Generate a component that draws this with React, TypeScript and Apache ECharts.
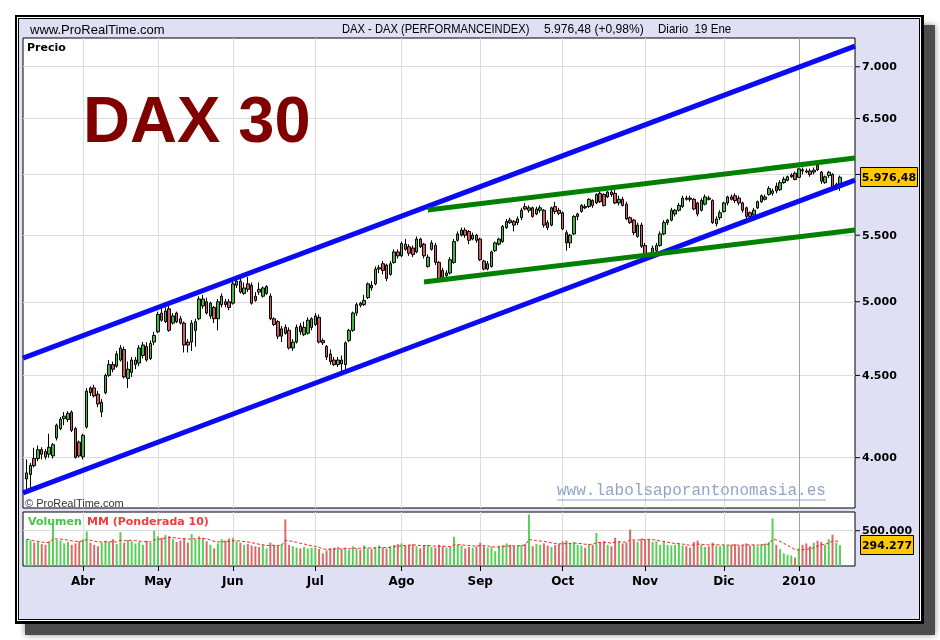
import React, { useEffect, useRef } from "react";
import * as echarts from "echarts";

// ---------- categories (trading days) ----------
const MONTH_NAMES = ["Ene", "Feb", "Mar", "Abr", "May", "Jun", "Jul", "Ago", "Sep", "Oct", "Nov", "Dic"];
const HOLIDAYS = ["2009-04-10", "2009-04-13", "2009-05-01", "2009-12-24", "2009-12-25", "2009-12-31", "2010-01-01"];
const FIRST_DAY = [2009, 2, 11];
const LAST_DAY = [2010, 0, 19];
const PAD_BEFORE = ["2009-03-10"];
const PAD_AFTER = ["2010-01-20", "2010-01-21", "2010-01-22", "2010-01-25"];

// ---------- OHLC [open, high, low, close] ----------
const ohlcMar09 = [
  [3880, 3990, 3820, 3914], [3905, 3970, 3830, 3956], [3995, 4057, 3945, 3954], [3995, 4070, 3980, 4046],
  [4046, 4060, 3990, 4020], [4035, 4050, 3990, 4005], [4020, 4140, 4000, 4060], [4010, 4085, 3995, 4075],
  [4115, 4200, 4100, 4190], [4170, 4240, 4160, 4226], [4230, 4270, 4190, 4245], [4225, 4275, 4210, 4262],
  [4270, 4280, 4150, 4160], [4170, 4180, 3995, 4002], [4090, 4100, 4000, 4010],
];
const ohlcApr09 = [
  [4005, 4140, 3990, 4130], [4180, 4420, 4170, 4400], [4420, 4430, 4370, 4390], [4420, 4440, 4360, 4370],
  [4380, 4400, 4300, 4320], [4270, 4350, 4240, 4330], [4390, 4510, 4380, 4500], [4500, 4600, 4490, 4570],
  [4570, 4590, 4520, 4540], [4560, 4660, 4550, 4640], [4600, 4700, 4590, 4680], [4670, 4690, 4480, 4490],
  [4480, 4590, 4420, 4540], [4520, 4620, 4490, 4600], [4570, 4620, 4540, 4600], [4580, 4700, 4560, 4680],
  [4630, 4720, 4610, 4700], [4690, 4720, 4590, 4600], [4610, 4730, 4600, 4710], [4720, 4790, 4700, 4765],
];
const ohlcMay09 = [
  [4790, 4930, 4780, 4910], [4920, 4960, 4860, 4870], [4860, 4960, 4850, 4935], [4950, 4980, 4790, 4800],
  [4850, 4920, 4840, 4900], [4920, 4930, 4850, 4860], [4880, 4900, 4840, 4850], [4850, 4860, 4650, 4700],
  [4720, 4740, 4650, 4700], [4720, 4870, 4660, 4850], [4800, 4880, 4690, 4860], [4880, 5040, 4870, 5020],
  [4970, 5050, 4950, 5020], [5000, 5030, 4910, 4920], [4900, 5000, 4880, 4990], [4960, 4970, 4850, 4880],
  [4880, 5020, 4800, 5000], [4980, 5060, 4960, 5040], [5000, 5020, 4960, 4980], [5000, 5020, 4940, 4960],
];
const ohlcJun09 = [
  [4990, 5145, 4980, 5130], [5120, 5170, 5100, 5150], [5150, 5180, 5060, 5070], [5060, 5140, 5050, 5100],
  [5130, 5180, 5070, 5090], [5120, 5140, 4980, 4990], [5040, 5070, 5000, 5010], [5090, 5140, 5050, 5070],
  [5040, 5110, 5030, 5100], [5060, 5120, 5050, 5110], [5040, 5060, 4870, 4880], [4880, 4890, 4830, 4840],
  [4860, 4870, 4740, 4760], [4760, 4830, 4720, 4810], [4820, 4840, 4770, 4780], [4800, 4820, 4670, 4680],
  [4680, 4740, 4660, 4720], [4720, 4840, 4710, 4820], [4830, 4850, 4770, 4790], [4770, 4860, 4760, 4820],
  [4780, 4890, 4770, 4870], [4820, 4890, 4800, 4880],
];
const ohlcJul09 = [
  [4840, 4920, 4830, 4900], [4890, 4910, 4710, 4720], [4730, 4745, 4700, 4715], [4690, 4700, 4600, 4620],
  [4640, 4670, 4570, 4590], [4600, 4620, 4560, 4570], [4570, 4620, 4555, 4600], [4600, 4630, 4525, 4575],
  [4570, 4725, 4540, 4715], [4730, 4810, 4720, 4800], [4800, 4930, 4790, 4920], [4920, 4995, 4900, 4980],
  [4990, 5000, 4960, 4975], [4980, 5050, 4970, 5010], [5030, 5140, 5020, 5130], [5120, 5150, 5080, 5100],
  [5130, 5260, 5120, 5240], [5240, 5270, 5210, 5250], [5280, 5300, 5200, 5230], [5270, 5280, 5150, 5170],
  [5200, 5300, 5190, 5280], [5290, 5390, 5280, 5370], [5370, 5390, 5320, 5340],
];
const ohlcAug09 = [
  [5340, 5450, 5330, 5435], [5430, 5470, 5380, 5390], [5410, 5430, 5340, 5360], [5400, 5420, 5330, 5350],
  [5370, 5490, 5360, 5470], [5470, 5480, 5400, 5410], [5430, 5440, 5320, 5340], [5260, 5350, 5250, 5330],
  [5390, 5460, 5380, 5440], [5420, 5440, 5270, 5290], [5290, 5300, 5155, 5170], [5230, 5250, 5160, 5180],
  [5190, 5230, 5160, 5210], [5210, 5330, 5200, 5310], [5290, 5470, 5280, 5450], [5460, 5530, 5450, 5510],
  [5500, 5560, 5490, 5540], [5540, 5560, 5480, 5500], [5530, 5540, 5430, 5460], [5470, 5520, 5460, 5500],
  [5500, 5510, 5440, 5460],
];
const ohlcSep09 = [
  [5470, 5480, 5300, 5310], [5300, 5310, 5230, 5240], [5240, 5300, 5230, 5280], [5260, 5380, 5250, 5370],
  [5380, 5450, 5370, 5440], [5430, 5480, 5420, 5470], [5450, 5580, 5440, 5570], [5560, 5630, 5550, 5610],
  [5620, 5640, 5590, 5600], [5610, 5620, 5530, 5580], [5600, 5650, 5580, 5630], [5640, 5720, 5620, 5700],
  [5730, 5760, 5700, 5710], [5700, 5740, 5680, 5720], [5720, 5730, 5640, 5650], [5670, 5730, 5660, 5710],
  [5700, 5740, 5680, 5720], [5700, 5710, 5560, 5580], [5600, 5620, 5540, 5560], [5580, 5730, 5570, 5720],
  [5730, 5770, 5670, 5690], [5700, 5720, 5660, 5675],
];
const ohlcOct09 = [
  [5680, 5690, 5540, 5550], [5520, 5540, 5380, 5440], [5440, 5510, 5400, 5500], [5510, 5660, 5500, 5650],
  [5650, 5680, 5620, 5670], [5690, 5750, 5680, 5740], [5730, 5750, 5710, 5720], [5730, 5800, 5720, 5790],
  [5780, 5790, 5720, 5740], [5760, 5840, 5750, 5830], [5840, 5860, 5760, 5770], [5830, 5840, 5730, 5740],
  [5810, 5860, 5800, 5850], [5850, 5870, 5810, 5830], [5840, 5870, 5750, 5760], [5760, 5820, 5740, 5790],
  [5790, 5810, 5730, 5740], [5750, 5770, 5620, 5630], [5640, 5650, 5590, 5600], [5620, 5630, 5500, 5520],
  [5490, 5600, 5480, 5580], [5580, 5600, 5400, 5414],
];
const ohlcNov09 = [
  [5420, 5440, 5330, 5350], [5330, 5360, 5315, 5320], [5340, 5420, 5330, 5400], [5380, 5440, 5360, 5420],
  [5420, 5530, 5410, 5510], [5510, 5620, 5500, 5600], [5600, 5630, 5580, 5620], [5620, 5720, 5610, 5700],
  [5670, 5710, 5650, 5700], [5700, 5760, 5690, 5740], [5730, 5820, 5720, 5800], [5800, 5820, 5780, 5790],
  [5800, 5820, 5770, 5790], [5790, 5800, 5700, 5710], [5760, 5770, 5650, 5670], [5700, 5800, 5690, 5780],
  [5750, 5830, 5740, 5810], [5800, 5820, 5780, 5790], [5780, 5790, 5590, 5600], [5590, 5650, 5570, 5630],
  [5640, 5700, 5620, 5680],
];
const ohlcDec09 = [
  [5690, 5770, 5680, 5760], [5760, 5820, 5740, 5810], [5810, 5830, 5780, 5790], [5820, 5840, 5760, 5780],
  [5800, 5820, 5740, 5760], [5760, 5770, 5680, 5700], [5720, 5730, 5625, 5650], [5680, 5690, 5630, 5650],
  [5660, 5720, 5640, 5700], [5720, 5780, 5710, 5770], [5770, 5830, 5760, 5820], [5790, 5830, 5780, 5810],
  [5830, 5900, 5820, 5880], [5840, 5880, 5820, 5860], [5900, 5930, 5840, 5860], [5870, 5950, 5860, 5930],
  [5930, 5980, 5920, 5960], [5950, 5990, 5940, 5980], [5980, 6010, 5970, 5995], [6010, 6025, 5950, 5957],
];
const ohlcJan10 = [
  [5975, 6050, 5970, 6048], [6040, 6060, 6000, 6030], [6030, 6050, 6010, 6020], [6030, 6050, 5980, 6000],
  [6020, 6060, 6000, 6037], [6080, 6095, 6030, 6040], [6020, 6030, 5920, 5943], [5930, 5990, 5920, 5980],
  [5990, 6030, 5970, 6019], [6000, 6010, 5860, 5875], [5880, 5930, 5870, 5918], [5890, 5990, 5860, 5976],
];

// ---------- volume (thousands) ----------
const volMar09 = [380, 360, 330, 340, 310, 300, 350, 600, 370, 360, 320, 340, 300, 320, 350];
const volApr09 = [380, 490, 330, 300, 280, 330, 360, 340, 380, 310, 480, 330, 370, 350, 320, 340, 300, 360, 330, 500];
const volMay09 = [420, 400, 440, 420, 380, 340, 360, 390, 330, 450, 380, 420, 400, 350, 300, 250, 320, 380, 360, 390];
const volJun09 = [400, 350, 330, 300, 310, 290, 280, 270, 300, 250, 330, 300, 290, 310, 660, 300, 280, 260, 250, 270, 250, 260];
const volJul09 = [260, 240, 180, 220, 250, 260, 270, 240, 260, 230, 280, 250, 230, 290, 250, 240, 270, 290, 260, 250, 280, 300, 310];
const volAug09 = [320, 290, 300, 310, 280, 250, 290, 300, 270, 260, 300, 280, 260, 270, 414, 300, 290, 250, 270, 260, 280];
const volSep09 = [330, 280, 260, 270, 210, 290, 300, 320, 300, 280, 290, 300, 310, 731, 280, 310, 300, 320, 290, 270, 300, 310];
const volOct09 = [350, 360, 320, 340, 300, 290, 260, 310, 300, 467, 330, 350, 300, 280, 400, 350, 320, 330, 517, 360, 340, 390];
const volNov09 = [370, 380, 340, 350, 300, 340, 300, 290, 300, 320, 290, 280, 260, 340, 360, 300, 270, 280, 330, 290, 280];
const volDec09 = [300, 290, 300, 310, 280, 300, 320, 290, 300, 280, 310, 320, 340, 674, 300, 240, 180, 160, 150, 120];
const volJan10 = [250, 300, 320, 280, 330, 360, 340, 300, 380, 445, 330, 294];

// ---------- trend lines [category index, price] ----------
const channelUpper = [[0, 4613], [222, 7210]];
const channelLower = [[0, 3803], [222, 5952]];
const wedgeUpper = [[108, 5702], [222, 6142]];
const wedgeLower = [[107, 5144], [222, 5541]];

// ---------- axis ticks ----------
const PRICE_MIN = 3722;
const PRICE_MAX = 7294;
const PRICE_TICKS = [4000, 4500, 5000, 5500, 6000, 6500, 7000];
// the 6.000 label sits under the last-price box in the reference, so it is left empty
const PRICE_TICK_LABELS = ["4.000", "4.500", "5.000", "5.500", "", "6.500", "7.000"];
const VOL_MAX = 765000;
const VOL_TICKS = [500000];
const VOL_TICK_LABELS = ["500.000"];
const LAST_PRICE = 5976.48;
const LAST_PRICE_LABEL = "5.976,48";
const LAST_VOL = 294277;
const LAST_VOL_LABEL = "294.277";
const WMA_PERIOD = 10;

function buildDays(): string[] {
  const out: string[] = [];
  const d = new Date(Date.UTC(FIRST_DAY[0], FIRST_DAY[1], FIRST_DAY[2]));
  const end = Date.UTC(LAST_DAY[0], LAST_DAY[1], LAST_DAY[2]);
  while (d.getTime() <= end) {
    const wd = d.getUTCDay();
    const s = d.toISOString().slice(0, 10);
    if (wd !== 0 && wd !== 6 && HOLIDAYS.indexOf(s) < 0) out.push(s);
    d.setUTCDate(d.getUTCDate() + 1);
  }
  return out;
}

export default function App() {
  const ref = useRef<HTMLDivElement>(null);

  useEffect(() => {
    const days = buildDays();
    const cats = [...PAD_BEFORE, ...days, ...PAD_AFTER];
    const off = PAD_BEFORE.length;
    const ohlc = [
      ...ohlcMar09, ...ohlcApr09, ...ohlcMay09, ...ohlcJun09, ...ohlcJul09, ...ohlcAug09,
      ...ohlcSep09, ...ohlcOct09, ...ohlcNov09, ...ohlcDec09, ...ohlcJan10,
    ];
    const vols = [
      ...volMar09, ...volApr09, ...volMay09, ...volJun09, ...volJul09, ...volAug09,
      ...volSep09, ...volOct09, ...volNov09, ...volDec09, ...volJan10,
    ].map((v) => v * 1000);

    const monthLabel: Record<number, string> = {};
    for (let i = 1; i < days.length; i++) {
      const m0 = days[i - 1].slice(5, 7);
      const m1 = days[i].slice(5, 7);
      if (m0 !== m1) {
        const mi = parseInt(m1, 10) - 1;
        monthLabel[i + off] = mi === 0 ? days[i].slice(0, 4) : MONTH_NAMES[mi];
      }
    }
    const isMonth = (idx: number) => monthLabel[idx] !== undefined;
    const yearIdx = Object.keys(monthLabel).map(Number).find((k) => monthLabel[k] === "2010")!;

    const candleData: any[] = cats.map((_, i) => {
      const r = ohlc[i - off];
      return r ? [r[0], r[3], r[2], r[1]] : "-";
    });
    const volData: any[] = cats.map((_, i) => {
      const v = vols[i - off];
      const r = ohlc[i - off];
      if (v === undefined || !r) return "-";
      return { value: v, itemStyle: { color: r[3] >= r[0] ? "#5ACD5A" : "#D86A6A" } };
    });
    const wma: any[] = cats.map((_, i) => {
      const j = i - off;
      if (j < 0 || j >= vols.length) return "-";
      let s = 0, w = 0;
      for (let k = 0; k < WMA_PERIOD && j - k >= 0; k++) {
        const wt = WMA_PERIOD - k;
        s += vols[j - k] * wt;
        w += wt;
      }
      return Math.round(s / w);
    });

    const gridLine = { color: "#DCDCDC", width: 1, type: "solid" };
    const trend = (data: number[][], color: string) => ({
      type: "line",
      xAxisIndex: 0,
      yAxisIndex: 0,
      data,
      symbol: "none",
      silent: true,
      z: 4,
      lineStyle: { color, width: 5, cap: "butt" },
    });

    const option: any = {
      animation: false,
      textStyle: { fontFamily: "DejaVu Sans" },
      grid: [
        { left: 23, top: 38, width: 832, height: 470, show: true, backgroundColor: "#FFFFFF", borderColor: "#000", borderWidth: 1 },
        { left: 23, top: 512, width: 832, height: 54, show: true, backgroundColor: "#FFFFFF", borderColor: "#000", borderWidth: 1 },
      ],
      xAxis: [
        {
          type: "category", gridIndex: 0, data: cats, boundaryGap: false,
          axisLine: { show: false }, axisTick: { show: false }, axisLabel: { show: false },
          splitLine: { show: true, interval: (i: number) => isMonth(i), lineStyle: gridLine },
        },
        {
          type: "category", gridIndex: 1, data: cats, boundaryGap: false,
          axisLine: { show: false },
          axisTick: { show: true, interval: (i: number) => isMonth(i), length: 5, lineStyle: { color: "#000" } },
          axisLabel: {
            show: true, interval: (i: number) => isMonth(i),
            formatter: (_v: string, i: number) => monthLabel[i] || "",
            color: "#000", fontWeight: "bold", fontSize: 12, fontFamily: "DejaVu Sans", margin: 9,
          },
          splitLine: { show: true, interval: (i: number) => isMonth(i), lineStyle: gridLine },
        },
      ],
      yAxis: [
        {
          type: "log", gridIndex: 0, min: PRICE_MIN, max: PRICE_MAX, position: "right",
          axisLine: { show: false }, axisTick: { show: false }, axisLabel: { show: false }, splitLine: { show: false },
        },
        {
          type: "value", gridIndex: 1, min: 0, max: VOL_MAX, position: "right",
          axisLine: { show: false }, axisTick: { show: false }, axisLabel: { show: false }, splitLine: { show: false },
        },
      ],
      series: [
        {
          type: "candlestick", xAxisIndex: 0, yAxisIndex: 0, data: candleData, barWidth: 3, z: 2,
          itemStyle: { color: "#3FBA3F", color0: "#D65A5A", borderColor: "#000", borderColor0: "#000", borderWidth: 1 },
          markLine: {
            silent: true, symbol: ["none", "none"], z: 1, label: { show: false },
            lineStyle: gridLine,
            data: [
              ...PRICE_TICKS.map((v) => ({ yAxis: v })),
              { xAxis: cats[yearIdx], lineStyle: { color: "#A0A0A0", width: 1, type: "solid" } },
            ],
          },
        },
        trend(channelUpper, "#0A0AF5"),
        trend(channelLower, "#0A0AF5"),
        trend(wedgeUpper, "#008000"),
        trend(wedgeLower, "#008000"),
        {
          type: "bar", xAxisIndex: 1, yAxisIndex: 1, data: volData, barWidth: 2, z: 2,
          markLine: {
            silent: true, symbol: ["none", "none"], z: 1, label: { show: false },
            lineStyle: gridLine,
            data: [
              ...VOL_TICKS.map((v) => ({ yAxis: v })),
              { xAxis: cats[yearIdx], lineStyle: { color: "#A0A0A0", width: 1, type: "solid" } },
            ],
          },
        },
        {
          type: "line", xAxisIndex: 1, yAxisIndex: 1, data: wma, symbol: "none", z: 3, silent: true,
          lineStyle: { color: "#FF2020", width: 1, type: [3, 2] },
        },
      ],
    };

    const chart = echarts.init(ref.current!, null, { renderer: "svg" });
    chart.setOption(option);

    const RIGHT = 855;
    const g: any[] = [
      { type: "rect", z: -20, shape: { x: 25, y: 25, width: 910, height: 610 }, style: { fill: "#4E4E4E", shadowBlur: 6, shadowColor: "rgba(0,0,0,0.45)" } },
      { type: "rect", z: -19, shape: { x: 15, y: 15, width: 909, height: 609 }, style: { fill: "#000" } },
      { type: "rect", z: -18, shape: { x: 17, y: 17, width: 904, height: 604 }, style: { fill: "#FFF" } },
      { type: "rect", z: -17, shape: { x: 18, y: 18, width: 902, height: 602 }, style: { fill: "#000" } },
      { type: "rect", z: -16, shape: { x: 19, y: 19, width: 900, height: 600 }, style: { fill: "#E0E0F5" } },
      { type: "text", z: 50, x: 30, y: 29, style: { text: "www.ProRealTime.com", font: "13px 'Liberation Sans'", fill: "#000", verticalAlign: "middle" } },
      { type: "text", z: 50, x: 342, y: 29, scaleX: 0.86, style: { text: "DAX - DAX (PERFORMANCEINDEX)", font: "13px 'Liberation Sans'", fill: "#000", verticalAlign: "middle" } },
      { type: "text", z: 50, x: 544, y: 29, scaleX: 0.93, style: { text: "5.976,48 (+0,98%)", font: "13px 'Liberation Sans'", fill: "#000", verticalAlign: "middle" } },
      { type: "text", z: 50, x: 658, y: 29, scaleX: 0.89, style: { text: "Diario  19 Ene", font: "13px 'Liberation Sans'", fill: "#000", verticalAlign: "middle" } },
      { type: "text", z: 50, x: 27, y: 47, style: { text: "Precio", font: "bold 11px 'DejaVu Sans'", fill: "#000", verticalAlign: "middle" } },
      { type: "text", z: 50, x: 83, y: 119, style: { text: "DAX 30", font: "bold 65px 'Liberation Sans'", fill: "#800000", verticalAlign: "middle" } },
      { type: "text", z: 50, x: 557, y: 491, style: { text: "www.labolsaporantonomasia.es", font: "16px 'Liberation Mono'", fill: "#8FA5C8", verticalAlign: "middle" } },
      { type: "line", z: 50, shape: { x1: 557, y1: 500, x2: 826, y2: 500 }, style: { stroke: "#8FA5C8", lineWidth: 1 } },
      { type: "text", z: 50, x: 25, y: 503, style: { text: "© ProRealTime.com", font: "11px 'Liberation Sans'", fill: "#333", verticalAlign: "middle" } },
      { type: "text", z: 50, x: 28, y: 521, style: { text: "Volumen", font: "bold 11px 'DejaVu Sans'", fill: "#44C844", verticalAlign: "middle" } },
      { type: "text", z: 50, x: 87, y: 521, style: { text: "MM (Ponderada 10)", font: "bold 11px 'DejaVu Sans'", fill: "#F03C3C", verticalAlign: "middle" } },
    ];
    PRICE_TICKS.forEach((v, k) => {
      const y = chart.convertToPixel({ yAxisIndex: 0 }, v) as number;
      g.push({ type: "line", z: 50, shape: { x1: RIGHT, y1: y, x2: RIGHT + 5, y2: y }, style: { stroke: "#000", lineWidth: 1 } });
      if (PRICE_TICK_LABELS[k]) {
        g.push({ type: "text", z: 50, x: RIGHT + 7, y, style: { text: PRICE_TICK_LABELS[k], font: "bold 11px 'DejaVu Sans'", fill: "#000", verticalAlign: "middle" } });
      }
    });
    VOL_TICKS.forEach((v, k) => {
      const y = chart.convertToPixel({ yAxisIndex: 1 }, v) as number;
      g.push({ type: "line", z: 50, shape: { x1: RIGHT, y1: y, x2: RIGHT + 5, y2: y }, style: { stroke: "#000", lineWidth: 1 } });
      g.push({ type: "text", z: 50, x: RIGHT + 7, y, style: { text: VOL_TICK_LABELS[k], font: "bold 11px 'DejaVu Sans'", fill: "#000", verticalAlign: "middle" } });
    });
    const yp = chart.convertToPixel({ yAxisIndex: 0 }, LAST_PRICE) as number;
    g.push({ type: "rect", z: 60, shape: { x: 860.5, y: Math.round(yp) - 9.5, width: 57, height: 19 }, style: { fill: "#FFC800", stroke: "#000", lineWidth: 1 } });
    g.push({ type: "text", z: 61, x: 889, y: Math.round(yp), style: { text: LAST_PRICE_LABEL, font: "bold 11px 'DejaVu Sans'", fill: "#000", align: "center", verticalAlign: "middle" } });
    const yv = chart.convertToPixel({ yAxisIndex: 1 }, LAST_VOL) as number;
    g.push({ type: "rect", z: 60, shape: { x: 860.5, y: Math.round(yv) - 9.5, width: 53, height: 19 }, style: { fill: "#FFC800", stroke: "#000", lineWidth: 1 } });
    g.push({ type: "text", z: 61, x: 887, y: Math.round(yv), style: { text: LAST_VOL_LABEL, font: "bold 11px 'DejaVu Sans'", fill: "#000", align: "center", verticalAlign: "middle" } });

    chart.setOption({ graphic: { elements: g } });
    return () => chart.dispose();
  }, []);

  return <div ref={ref} style={{ position: "fixed", left: 0, top: 0, width: 940, height: 640 }} />;
}
